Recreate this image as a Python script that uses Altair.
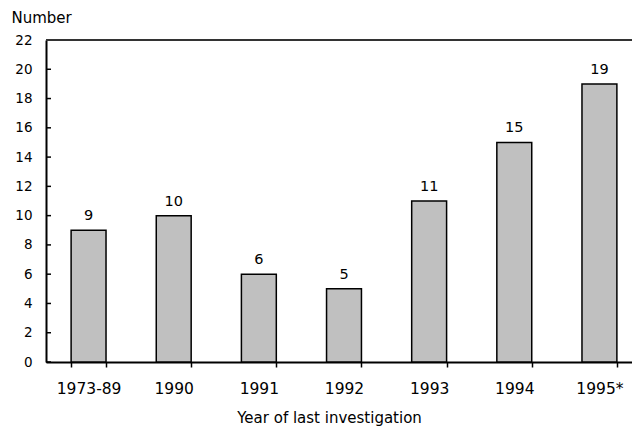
import altair as alt
import pandas as pd

categories = ["1973-89", "1990", "1991", "1992", "1993", "1994", "1995*"]
counts = [9, 10, 6, 5, 11, 15, 19]
y_ticks = [0, 2, 4, 6, 8, 10, 12, 14, 16, 18, 20, 22]

df = pd.DataFrame({"year": categories, "count": counts})
ticks_df = pd.DataFrame({"v": y_ticks})

FONT = "DejaVu Sans"
W, H = 596, 322

x_scale = alt.Scale(domain=categories, paddingInner=0.59, paddingOuter=0.295)
y_scale = alt.Scale(domain=[0, 22], nice=False)

x_axis = alt.Axis(title="Year of last investigation", labelAngle=0,
                  tickBand="extent", tickSize=5, tickWidth=1.5,
                  tickColor="black", domainColor="black", domainWidth=2,
                  labelFont=FONT, labelFontSize=15.5, labelColor="black",
                  labelPadding=14, labelOverlap=False,
                  titleFont=FONT, titleFontSize=15,
                  titleFontWeight="normal", titleColor="black",
                  titleX=283, titleY=55, titleBaseline="middle",
                  titleAlign="center")
y_axis = alt.Axis(title="Number", values=y_ticks, grid=False,
                  tickSize=0, domainColor="black", domainWidth=2,
                  labelFont=FONT, labelFontSize=13.5, labelColor="black",
                  labelPadding=14, labelOverlap=False, labelFlush=False,
                  titleFont=FONT, titleFontSize=15,
                  titleFontWeight="normal", titleColor="black",
                  titleAngle=0, titleAlign="left", titleBaseline="middle",
                  titleX=-35, titleY=-23)

bars = alt.Chart(df).mark_bar(
    fill="#c0c0c0", stroke="black", strokeWidth=1.5
).encode(
    x=alt.X("year:N", scale=x_scale, sort=categories, axis=x_axis),
    y=alt.Y("count:Q", scale=y_scale, axis=y_axis),
)

labels = alt.Chart(df).mark_text(
    font=FONT, fontSize=14.5, color="black", baseline="alphabetic", dy=-10
).encode(
    x=alt.X("year:N", scale=x_scale, sort=categories, axis=x_axis),
    y=alt.Y("count:Q", scale=y_scale, axis=y_axis),
    text="count:Q",
)

inner_ticks = alt.Chart(ticks_df).mark_rule(color="black", strokeWidth=1.5).encode(
    y=alt.Y("v:Q", scale=y_scale, axis=y_axis),
    x=alt.value(0),
    x2=alt.value(5),
)

top_line = alt.Chart(ticks_df).mark_rule(color="#333333", strokeWidth=2).encode(
    y=alt.value(0),
    x=alt.value(0),
    x2=alt.value(W),
)

chart = alt.layer(bars, labels, inner_ticks, top_line).properties(
    width=W, height=H,
    autosize=alt.AutoSizeParams(type="none"),
    padding={"left": 38, "top": 32, "right": -10, "bottom": 64},
).configure_view(stroke=None)

chart.save("out.html", embed_options={"renderer": "svg", "actions": False})
